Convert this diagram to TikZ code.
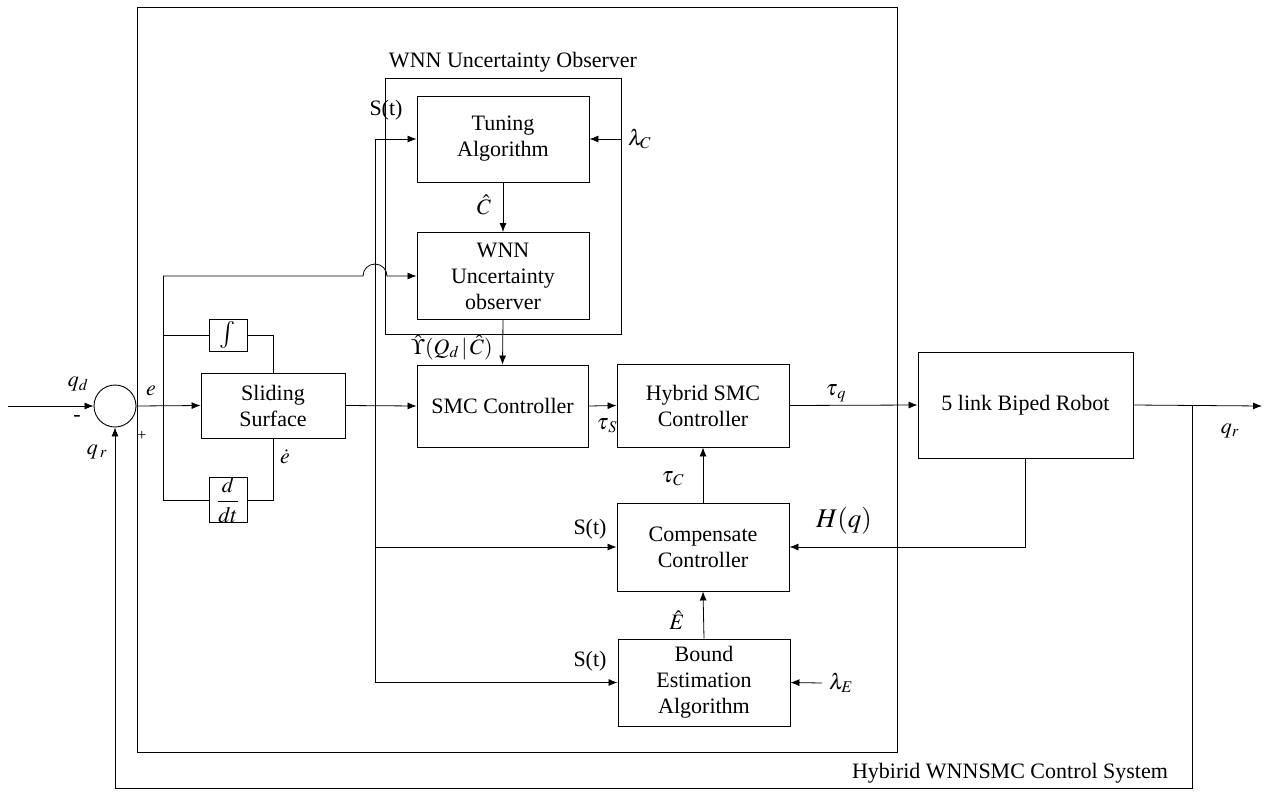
\documentclass[tikz,border=0pt]{standalone}
\usepackage{amsmath}
\usepackage{mathptmx}
\usepackage{fontspec}
\setmainfont{Liberation Serif}
\usetikzlibrary{arrows.meta,calc}

\begin{document}
\begin{tikzpicture}[x=1pt, y=-1pt, font=\fontsize{22}{26}\selectfont,
    block/.style={draw, line width=0.9pt, align=center, inner sep=0pt},
    wire/.style={line width=0.8pt},
    lbl/.style={inner sep=1pt},
    >={Latex[length=9pt,width=7pt]}]
\useasboundingbox (0,0) rectangle (1265,792);
% outer frame and observer frame
\draw[wire] (137,7) rectangle (897,752);
\node[lbl] (syslbl) at (1010,773) {Hybirid WNNSMC Control System};
\draw[wire] (385,78) rectangle (621,334);
\node[lbl] (obslbl) at (513,62) {WNN Uncertainty Observer};

% blocks
\node[draw, circle, line width=0.9pt, minimum size=42pt, inner sep=0pt] (sum) at (115,406) {};
\node[block, minimum width=144pt, minimum height=65pt] (ss) at (273,405.5) {Sliding\\Surface};
\node[block, minimum width=38pt, minimum height=32pt, font=\fontsize{27}{28}\selectfont] (intg) at (228,335) {$\int$};
\node[block, minimum width=38pt, minimum height=41pt] (ddt) at (228,500) {$\displaystyle\frac{d}{dt}$};
\node[block, minimum width=172pt, minimum height=86pt] (tun) at (503,139) {Tuning\\Algorithm};
\node[block, minimum width=172pt, minimum height=87pt] (wnn) at (503,276) {WNN\\Uncertainty\\observer};
\node[block, minimum width=171pt, minimum height=82pt] (smc) at (502.5,406) {SMC Controller};
\node[block, minimum width=172pt, minimum height=83pt] (hyb) at (703,405.5) {Hybrid SMC\\Controller};
\node[block, minimum width=172pt, minimum height=88pt] (comp) at (703,547) {Compensate\\Controller};
\node[block, minimum width=172pt, minimum height=87pt] (bound) at (704,682.5) {Bound\\Estimation\\Algorithm};
\node[block, minimum width=215pt, minimum height=106pt] (robot) at (1025.5,405) {5 link Biped Robot};

% free ends and branch points
\coordinate (in) at (8,406);
\coordinate (eb) at (163,406);
\coordinate (sb) at (375,406);
\coordinate (lc) at (621,139);
\coordinate (le) at (822,683);
\coordinate (fb) at (1192,406);
\coordinate (out) at (1262,406);

% signal lines
\draw[wire,->] (in) -- (sum.west);
\draw[wire,->] (sum.east) -- (ss.west);
\draw[wire] (eb |- wnn.west) -- (eb |- ddt.west);
\draw[wire] (eb |- intg.west) -- (intg.west);
\draw[wire] (eb |- ddt.west) -- (ddt.west);
\draw[wire] (intg.east) -| (ss.north);
\draw[wire] (ddt.east) -| (ss.south);
\draw[wire,->] (eb |- wnn.west) -- ($(sb |- wnn.west)+(-12,0)$)
    arc[start angle=180, end angle=360, radius=12] -- (wnn.west);
\draw[wire,->] (ss.east) -- (smc.west);
\draw[wire] (sb |- tun.west) -- (sb |- bound.west);
\draw[wire,->] (sb |- tun.west) -- (tun.west);
\draw[wire,->] (sb |- comp.west) -- (comp.west);
\draw[wire,->] (sb |- bound.west) -- (bound.west);
\draw[wire,->] (lc) -- (tun.east);
\draw[wire,->] (tun.south) -- (wnn.north);
\draw[wire,->] (wnn.south) -- (smc.north);
\draw[wire,->] (smc.east) -- (hyb.west);
\draw[wire,->] (hyb.east) -- (robot.west);
\draw[wire,->] (comp.north) -- (hyb.south);
\draw[wire,->] (bound.north) -- (comp.south);
\draw[wire,->] (robot.south) |- (comp.east);
\draw[wire,->] (le) -- (bound.east);
\draw[wire,->] (robot.east) -- (out);
\draw[wire,->] (fb) -- (fb |- 0,788) -| (sum.south);

% labels
\node[lbl] (lqd) at (78,384) {$q_d$};
\node[lbl] (lminus) at (77,418) {-};
\node[lbl] (lqr) at (97,452) {$q_{\,r}$};
\node[lbl, font=\fontsize{16}{18}\selectfont] (lplus) at (142,436) {+};
\node[lbl] (le1) at (151,391) {$e$};
\node[lbl] (ledot) at (285,457) {$\dot{e}$};
\node[lbl] (lst1) at (386,110) {S(t)};
\node[right, inner sep=7pt] (llc) at (lc) {$\lambda_C$};
\node[lbl] (lch) at (484,205) {$\hat{C}$};
\node[lbl] (lups) at (452,347) {$\hat{\Upsilon}(Q_d\,|\,\hat{C})$};
\node[lbl] (lts) at (607,426) {$\tau_{\,S}$};
\node[lbl] (ltq) at (836,393) {$\tau_{\,q}$};
\node[lbl] (ltc) at (673,479) {$\tau_{\,C}$};
\node[lbl] (lst2) at (590,529) {S(t)};
\node[lbl, font=\fontsize{27}{30}\selectfont] (lhq) at (844,521) {$H(q)$};
\node[lbl] (leh) at (677,620) {$\hat{E}$};
\node[lbl] (lst3) at (590,661) {S(t)};
\node[right, inner sep=7pt] (lle) at (le) {$\lambda_E$};
\node[lbl] (lqr2) at (1230,431) {$q_r$};
\end{tikzpicture}
\end{document}
